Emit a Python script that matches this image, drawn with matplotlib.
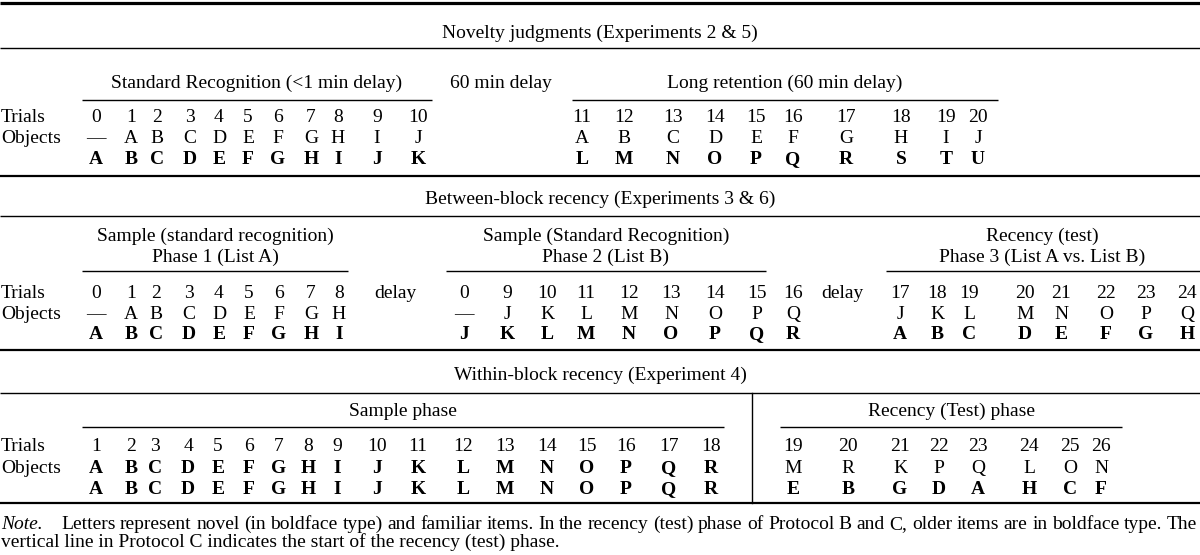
import matplotlib.pyplot as plt

plt.rcParams['font.family'] = ['Liberation Serif', 'DejaVu Serif']
FS = 14

# ---- table contents ----
titles = ["Novelty judgments (Experiments 2 & 5)",
          "Between-block recency (Experiments 3 & 6)",
          "Within-block recency (Experiment 4)"]

# Protocol A: novelty judgments
a_std_trials = ['0', '1', '2', '3', '4', '5', '6', '7', '8', '9', '10']
a_std_seen = ['—', 'A', 'B', 'C', 'D', 'E', 'F', 'G', 'H', 'I', 'J']
a_std_new = ['A', 'B', 'C', 'D', 'E', 'F', 'G', 'H', 'I', 'J', 'K']
a_long_trials = ['11', '12', '13', '14', '15', '16', '17', '18', '19', '20']
a_long_seen = ['A', 'B', 'C', 'D', 'E', 'F', 'G', 'H', 'I', 'J']
a_long_new = ['L', 'M', 'N', 'O', 'P', 'Q', 'R', 'S', 'T', 'U']

# Protocol B: between-block recency
b_p1_trials = ['0', '1', '2', '3', '4', '5', '6', '7', '8']
b_p1_seen = ['—', 'A', 'B', 'C', 'D', 'E', 'F', 'G', 'H']
b_p1_new = ['A', 'B', 'C', 'D', 'E', 'F', 'G', 'H', 'I']
b_p2_trials = ['0', '9', '10', '11', '12', '13', '14', '15', '16']
b_p2_seen = ['—', 'J', 'K', 'L', 'M', 'N', 'O', 'P', 'Q']
b_p2_new = ['J', 'K', 'L', 'M', 'N', 'O', 'P', 'Q', 'R']
b_p3_trials = ['17', '18', '19', '20', '21', '22', '23', '24']
b_p3_seen = ['J', 'K', 'L', 'M', 'N', 'O', 'P', 'Q']
b_p3_new = ['A', 'B', 'C', 'D', 'E', 'F', 'G', 'H']

# Protocol C: within-block recency
c_samp_trials = [str(t) for t in
                 [1, 2, 3, 4, 5, 6, 7, 8, 9, 10, 11, 12, 13, 14, 15, 16, 17, 18]]
c_samp_row1 = ['A', 'B', 'C', 'D', 'E', 'F', 'G', 'H', 'I',
               'J', 'K', 'L', 'M', 'N', 'O', 'P', 'Q', 'R']
c_samp_row2 = ['A', 'B', 'C', 'D', 'E', 'F', 'G', 'H', 'I',
               'J', 'K', 'L', 'M', 'N', 'O', 'P', 'Q', 'R']
c_rec_trials = ['19', '20', '21', '22', '23', '24', '25', '26']
c_rec_seen = ['M', 'R', 'K', 'P', 'Q', 'L', 'O', 'N']
c_rec_old = ['E', 'B', 'G', 'D', 'A', 'H', 'C', 'F']

note_lead = "Note."
note_line1 = ("Letters represent novel (in boldface type) and familiar items. In the recency "
              "(test) phase of Protocol B and C, older items are in boldface type. The")
note_line2 = "vertical line in Protocol C indicates the start of the recency (test) phase."

# ---- layout (pixel coordinates) ----
x_a_std = [96, 131, 157, 190, 219, 248, 278, 311, 338, 377, 418]
x_a_long = [582, 624, 673, 715, 756, 793, 846, 901, 946, 978]
x_b_p1 = [96, 131, 156, 189, 219, 249, 279, 311, 339]
x_b_p2 = [464, 507, 547, 586, 629, 671, 715, 757, 793]
x_b_p3 = [900, 937, 969, 1025, 1061, 1106, 1146, 1187]
x_c_samp = [96, 131, 155, 188, 218, 249, 279, 308, 337, 377, 418,
            463, 505, 547, 587, 626, 669, 711]
x_c_rec = [793, 848, 900, 939, 978, 1029, 1070, 1101]

BASE = 6.4  # from visual centre of capitals to baseline

fig = plt.figure(figsize=(12, 5.55), dpi=100)
ax = fig.add_axes([0, 0, 1, 1])
ax.set_xlim(0, 1200)
ax.set_ylim(555, 0)
ax.axis('off')


def txt(x, y, s, ha='center', bold=False, **kw):
    return ax.text(x, y + BASE, s, ha=ha, va='baseline', fontsize=FS,
                   fontweight='bold' if bold else 'normal', **kw)


def hrule(y, x0=0, x1=1200, lw=1.0):
    ax.plot([x0, x1], [y, y], color='black', lw=lw, solid_capstyle='butt')


def block(xs, rows, ys, bolds):
    for vals, y, b in zip(rows, ys, bolds):
        for x, v in zip(xs, vals):
            txt(x, y, v, bold=b)


def labels(ys):
    txt(1, ys[0], 'Trials', ha='left')
    txt(1, ys[1], 'Objects', ha='left')


# ---- Section 1 ----
hrule(3, lw=2.3)
txt(600, 32, titles[0])
hrule(48, lw=1.0)
txt(257, 82, 'Standard Recognition (<1 min delay)')
txt(501, 82, '60 min delay')
txt(785, 82, 'Long retention (60 min delay)')
hrule(100, 82, 432)
hrule(100, 572, 998)
ys1 = [116, 137, 158]
labels(ys1)
block(x_a_std, [a_std_trials, a_std_seen, a_std_new], ys1, [False, False, True])
block(x_a_long, [a_long_trials, a_long_seen, a_long_new], ys1, [False, False, True])
hrule(176, lw=1.6)

# ---- Section 2 ----
txt(600, 198, titles[1])
hrule(216, lw=1.0)
txt(215, 235, 'Sample (standard recognition)')
txt(215, 256, 'Phase 1 (List A)')
txt(606, 235, 'Sample (Standard Recognition)')
txt(606, 256, 'Phase 2 (List B)')
txt(1042, 235, 'Recency (test)')
txt(1042, 256, 'Phase 3 (List A vs. List B)')
hrule(271, 82, 348)
hrule(271, 446, 766)
hrule(271, 886, 1200)
ys2 = [292, 313, 333]
labels(ys2)
block(x_b_p1, [b_p1_trials, b_p1_seen, b_p1_new], ys2, [False, False, True])
txt(395, ys2[0], 'delay')
block(x_b_p2, [b_p2_trials, b_p2_seen, b_p2_new], ys2, [False, False, True])
txt(842, ys2[0], 'delay')
block(x_b_p3, [b_p3_trials, b_p3_seen, b_p3_new], ys2, [False, False, True])
hrule(350, lw=1.6)

# ---- Section 3 ----
txt(600, 374, titles[2])
hrule(393, lw=1.0)
txt(403, 410, 'Sample phase')
txt(951, 410, 'Recency (Test) phase')
hrule(427, 82, 724)
hrule(427, 780, 1122)
ys3 = [445, 467, 488]
labels(ys3)
block(x_c_samp, [c_samp_trials, c_samp_row1, c_samp_row2], ys3, [False, True, True])
block(x_c_rec, [c_rec_trials, c_rec_seen, c_rec_old], ys3, [False, False, True])
ax.plot([752, 752], [393, 503], color='black', lw=1.0)
hrule(503, lw=1.6)

# ---- Note (first line justified) ----
txt(1, 523, note_lead, ha='left', style='italic')
renderer = fig.canvas.get_renderer()
words = note_line1.split()
objs = [txt(0, 523, w, ha='left') for w in words]
widths = [o.get_window_extent(renderer).width for o in objs]
left, right = 61, 1197
gap = (right - left - sum(widths)) / (len(words) - 1)
xpos = left
for o, w in zip(objs, widths):
    o.set_x(xpos)
    xpos += w + gap
txt(1, 541, note_line2, ha='left')

fig.savefig('out.png', dpi=100)
